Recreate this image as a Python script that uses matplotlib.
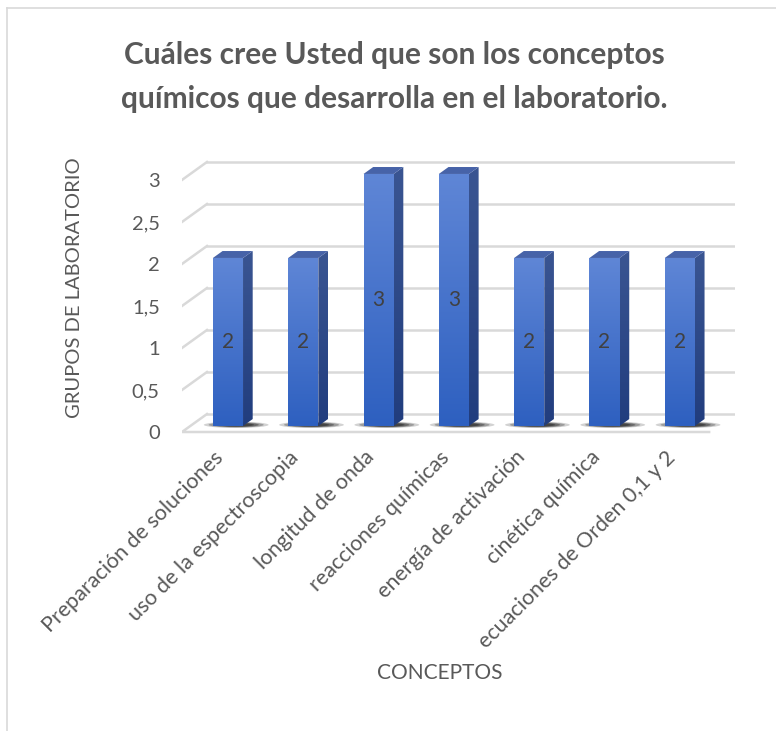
import matplotlib.pyplot as plt
import numpy as np
from matplotlib.patches import Polygon, Ellipse
from matplotlib.colors import LinearSegmentedColormap
from matplotlib.lines import Line2D

# datos
conceptos = ['Preparación de soluciones', 'uso de la espectroscopia', 'longitud de onda',
             'reacciones químicas', 'energía de activación', 'cinética química',
             'ecuaciones de Orden 0,1 y 2']
grupos = [2, 2, 3, 3, 2, 2, 2]
yticks = [0, 0.5, 1, 1.5, 2, 2.5, 3]
ytick_labels = ['0', '0,5', '1', '1,5', '2', '2,5', '3']

titulo = 'Cuáles cree Usted que son los conceptos\nquímicos que desarrolla en el laboratorio.'

plt.rcParams['font.family'] = ['Lato', 'DejaVu Sans']
gris = '#595959'
grid_col = '#d9d9d9'

# profundidad de la proyeccion oblicua (en unidades de datos)
DX, DY = 0.332, 0.214
Z1, Z2 = 1 / 3, 0.72
ANCHO = 0.4

fig = plt.figure(figsize=(7.76, 7.31), dpi=100)
ax = fig.add_axes([0.2345, 0.4033, 0.7133, 0.385])
for s in ax.spines.values():
    s.set_visible(False)

x = np.arange(len(conceptos))

# suelo y lineas de la cuadricula
x0, x1 = -0.5, len(conceptos) - 0.5
ax.add_patch(Polygon([(x0, 0), (x1, 0), (x1 + DX, DY), (x0 + DX, DY)], closed=True,
                     facecolor='white', edgecolor='none', zorder=1))
ax.plot([x0 + DX, x0, x1], [DY, 0, 0], color=grid_col, lw=1.8, zorder=1.2)
for g in yticks:
    ax.plot([x0 + DX, x1 + DX], [g + DY, g + DY], color=grid_col, lw=1.8, zorder=1.1)
    if g > 0:
        ax.plot([x0, x0 + DX], [g, g + DY], color=grid_col, lw=1.8, zorder=0.5)

cmap_frente = LinearSegmentedColormap.from_list('f', ['#2e60c0', '#5f86d6'])
cmap_lado = LinearSegmentedColormap.from_list('l', ['#213d7e', '#3a5592'])
grad = np.linspace(0, 1, 100).reshape(-1, 1)


def relleno(patch, cmap, b, t, l, r, z):
    ax.add_patch(patch)
    im = ax.imshow(grad, extent=[l, r, b, t], origin='lower', aspect='auto', cmap=cmap, zorder=z)
    im.set_clip_path(patch)


# sombras
for xi in x:
    for k, a in zip([1.0, 0.85, 0.7, 0.55], [0.2, 0.3, 0.4, 0.5]):
        ax.add_patch(Ellipse((xi + 0.22, 0.085), 0.86 * k, 0.075 * k, facecolor='#202020',
                             alpha=a, edgecolor='none', zorder=2))

# barras frontales
xf = x + Z1 * DX
barras = ax.bar(xf, grupos, width=ANCHO, bottom=Z1 * DY, color='none', zorder=3)
dxx, dyy = (Z2 - Z1) * DX, (Z2 - Z1) * DY
for i, (b, v) in enumerate(zip(barras, grupos)):
    l, r = xf[i] - ANCHO / 2, xf[i] + ANCHO / 2
    yb, yt = Z1 * DY, v + Z1 * DY
    cara = Polygon([(l, yb), (r, yb), (r, yt), (l, yt)], closed=True, facecolor='none', edgecolor='none')
    relleno(cara, cmap_frente, yb, yt, l, r, 3)
    # lado derecho
    lado = Polygon([(r, yb), (r + dxx, yb + dyy), (r + dxx, yt + dyy), (r, yt)], closed=True,
                   facecolor='none', edgecolor='none')
    relleno(lado, cmap_lado, yb, yt + dyy, r, r + dxx, 3)
    # tapa
    ax.add_patch(Polygon([(l, yt), (r, yt), (r + dxx, yt + dyy), (l + dxx, yt + dyy)], closed=True,
                         facecolor='#4763a8', edgecolor='none', zorder=4))
    ax.text(xf[i], v / 2 + Z1 * DY, str(v), ha='center', va='center', fontsize=15,
            color='#404040', zorder=5)

ax.set_xlim(-0.5, 6.85)
ax.set_ylim(-0.05, 3.3)

ax.set_yticks(yticks, ytick_labels)
ax.set_xticks(xf - 0.1, conceptos)
ax.tick_params(axis='both', length=0, colors=gris)
ax.tick_params(axis='y', pad=16, labelsize=14.5)
ax.tick_params(axis='x', pad=13, labelsize=15.5)
for t in ax.get_xticklabels():
    t.set_rotation(45)
    t.set_ha('right')
    t.set_va('center')
    t.set_rotation_mode('anchor')

fig.text(75 / 776, 1 - 288 / 731, 'GRUPOS DE LABORATORIO', rotation=90, ha='center', va='center',
         fontsize=14.5, color=gris)
fig.text(440 / 776, 1 - 673 / 731, 'CONCEPTOS', ha='center', va='center', fontsize=15, color=gris)
fig.text(394 / 776, 1 - 77 / 731, titulo, ha='center', va='center', fontsize=21.5, fontweight='bold',
         color=gris, linespacing=1.7)

# marco del grafico
fig.add_artist(Line2D([7 / 776, 1], [1 - 8 / 731, 1 - 8 / 731], color=grid_col, lw=1.2))
fig.add_artist(Line2D([7 / 776, 7 / 776], [0, 1 - 8 / 731], color=grid_col, lw=1.2))

plt.savefig('out.png', dpi=100)
